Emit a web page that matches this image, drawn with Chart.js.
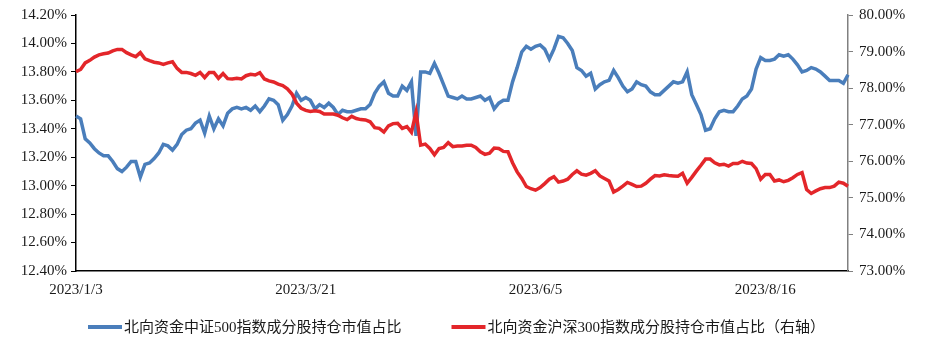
<!DOCTYPE html>
<html>
<head>
<meta charset="utf-8">
<script src="https://cdn.jsdelivr.net/npm/chart.js@4.4.0/dist/chart.umd.min.js"></script>
<style>
  html, body { margin: 0; padding: 0; background: #fff; }
  #wrap { width: 926px; height: 345px; }
</style>
</head>
<body>
<div id="wrap"><canvas id="myChart" width="926" height="345"></canvas></div>
<script>
// trading days, 2023/1/3 - 2023/9/11
const tradingDays = [
  ['2023/1', [3,4,5,6,9,10,11,12,13,16,17,18,19,20,30,31]],
  ['2023/2', [1,2,3,6,7,8,9,10,13,14,15,16,17,20,21,22,23,24,27,28]],
  ['2023/3', [1,2,3,6,7,8,9,10,13,14,15,16,17,20,21,22,23,24,27,28,29,30,31]],
  ['2023/4', [3,4,6,7,10,11,12,13,14,17,18,19,20,21,24,25,26,27,28]],
  ['2023/5', [4,5,8,9,10,11,12,15,16,17,18,19,22,23,24,25,26,29,30,31]],
  ['2023/6', [1,2,5,6,7,8,9,12,13,14,15,16,19,20,21,26,27,28,29,30]],
  ['2023/7', [3,4,5,6,7,10,11,12,13,14,17,18,19,20,21,24,25,26,27,28,31]],
  ['2023/8', [1,2,3,4,7,8,9,10,11,14,15,16,17,18,21,22,23,24,25,28,29,30,31]],
  ['2023/9', [1,4,5,6,7,8,11]]
];
const labels = [];
tradingDays.forEach(([m, days]) => days.forEach(d => labels.push(m + '/' + d)));

// 北向资金中证500指数成分股持仓市值占比 (left axis, %)
const csi500Share = [
  13.49,13.47,13.33,13.30,13.26,13.23,13.21,13.21,13.17,13.12,
  13.10,13.13,13.17,13.17,13.06,13.15,13.16,13.19,13.23,13.29,
  13.28,13.25,13.29,13.36,13.39,13.40,13.44,13.46,13.37,13.49,
  13.40,13.47,13.42,13.51,13.54,13.55,13.54,13.55,13.53,13.56,
  13.52,13.56,13.61,13.60,13.57,13.46,13.50,13.56,13.65,13.60,
  13.62,13.60,13.54,13.57,13.55,13.58,13.55,13.50,13.53,13.52,
  13.52,13.53,13.54,13.54,13.57,13.65,13.70,13.73,13.65,13.63,
  13.63,13.70,13.67,13.73,13.35,13.80,13.80,13.79,13.86,13.79,
  13.71,13.63,13.62,13.61,13.63,13.61,13.61,13.62,13.63,13.60,
  13.62,13.54,13.58,13.60,13.60,13.73,13.83,13.94,13.98,13.96,
  13.98,13.99,13.96,13.89,13.96,14.05,14.04,14.00,13.95,13.83,
  13.81,13.77,13.79,13.68,13.71,13.73,13.74,13.81,13.76,13.70,
  13.66,13.68,13.73,13.71,13.70,13.66,13.64,13.64,13.67,13.70,
  13.73,13.72,13.73,13.80,13.64,13.57,13.50,13.39,13.40,13.47,
  13.52,13.53,13.52,13.52,13.56,13.61,13.63,13.68,13.82,13.90,
  13.88,13.88,13.89,13.92,13.91,13.92,13.89,13.85,13.80,13.81,
  13.83,13.82,13.80,13.77,13.74,13.74,13.74,13.72,13.78
];

// 北向资金沪深300指数成分股持仓市值占比 (right axis, %)
const hs300Share = [
  78.45,78.51,78.69,78.76,78.85,78.91,78.94,78.96,79.02,79.06,
  79.06,78.97,78.91,78.86,78.97,78.80,78.75,78.71,78.69,78.65,
  78.69,78.72,78.54,78.43,78.43,78.40,78.35,78.43,78.29,78.43,
  78.43,78.27,78.40,78.26,78.25,78.27,78.25,78.34,78.38,78.36,
  78.42,78.25,78.20,78.17,78.11,78.07,77.98,77.84,77.59,77.45,
  77.39,77.36,77.38,77.36,77.29,77.29,77.29,77.26,77.19,77.14,
  77.23,77.17,77.14,77.13,77.08,76.92,76.90,76.80,76.97,77.03,
  77.04,76.90,76.95,76.79,77.34,76.44,76.47,76.35,76.18,76.35,
  76.38,76.51,76.40,76.42,76.42,76.44,76.44,76.38,76.26,76.19,
  76.22,76.36,76.35,76.27,76.26,75.96,75.71,75.53,75.31,75.25,
  75.21,75.28,75.39,75.51,75.58,75.43,75.46,75.51,75.64,75.74,
  75.65,75.62,75.67,75.74,75.60,75.53,75.46,75.16,75.23,75.32,
  75.42,75.37,75.31,75.32,75.40,75.51,75.61,75.60,75.63,75.61,
  75.60,75.59,75.67,75.40,75.56,75.73,75.89,76.06,76.06,75.96,
  75.90,75.92,75.87,75.94,75.94,76.00,75.95,75.94,75.80,75.51,
  75.64,75.64,75.46,75.49,75.44,75.48,75.55,75.64,75.69,75.23,
  75.12,75.19,75.25,75.28,75.28,75.32,75.43,75.40,75.32
];

const shownEvery = 50;
const blue = '#4A7EBB';
const red = '#E3262A';
const fontFamily = '"Liberation Serif", "Noto Sans CJK SC", serif';

Chart.defaults.font.family = fontFamily;
Chart.defaults.font.size = 15;
Chart.defaults.color = '#1a1a1a';

// legend drawn by hand so the gap between the two entries can match
const bottomLegend = {
  id: 'bottomLegend',
  afterDraw(chart) {
    const ctx = chart.ctx;
    const y = 327;
    let x = 88;
    ctx.save();
    ctx.font = '15px ' + fontFamily;
    ctx.textBaseline = 'middle';
    chart.data.datasets.forEach(ds => {
      ctx.fillStyle = ds.borderColor;
      ctx.fillRect(x, y - 2, 34, 4);
      x += 36;
      ctx.fillStyle = '#1a1a1a';
      ctx.fillText(ds.label, x, y + 1);
      x += ctx.measureText(ds.label).width + 50;
    });
    ctx.restore();
  }
};

const data = {
  labels: labels,
  datasets: [{
    label: '北向资金中证500指数成分股持仓市值占比',
    data: csi500Share,
    yAxisID: 'y',
    borderColor: blue,
    backgroundColor: blue,
    borderWidth: 3.5,
    pointRadius: 0,
    tension: 0,
    order: 1
  }, {
    label: '北向资金沪深300指数成分股持仓市值占比（右轴）',
    data: hs300Share,
    yAxisID: 'y1',
    borderColor: red,
    backgroundColor: red,
    borderWidth: 3.5,
    pointRadius: 0,
    tension: 0,
    order: 0
  }]
};

const config = {
  type: 'line',
  data: data,
  plugins: [bottomLegend],
  options: {
    responsive: false,
    animation: false,
    layout: { padding: { left: 10, right: 0, top: 14, bottom: 35 } },
    plugins: {
      tooltip: { enabled: false },
      legend: { display: false }
    },
    scales: {
      x: {
        type: 'category',
        offset: false,
        grid: { display: false },
        border: { display: true, color: '#000', width: 1.5 },
        ticks: {
          autoSkip: false,
          maxRotation: 0,
          padding: 2,
          callback: (v, i) => (i % shownEvery === 0 ? labels[i] : '')
        },
        afterFit: (s) => { s.height = 39; }
      },
      y: {
        position: 'left',
        min: 12.4,
        max: 14.2,
        grid: { drawOnChartArea: false, drawTicks: true, tickLength: 5, color: '#000' },
        border: { display: true, color: '#000', width: 1.5 },
        ticks: { stepSize: 0.2, padding: 4, callback: (v) => v.toFixed(2) + '%' },
        afterFit: (s) => { s.width = 66; }
      },
      y1: {
        position: 'right',
        min: 73,
        max: 80,
        grid: { drawOnChartArea: false, drawTicks: true, tickLength: 5, color: '#808080' },
        border: { display: true, color: '#808080', width: 1.5 },
        ticks: { stepSize: 1, padding: 6, callback: (v) => v.toFixed(2) + '%' },
        afterFit: (s) => { s.width = 78; }
      }
    }
  }
};

const myChart = new Chart(document.getElementById('myChart'), config);
</script>
</body>
</html>
